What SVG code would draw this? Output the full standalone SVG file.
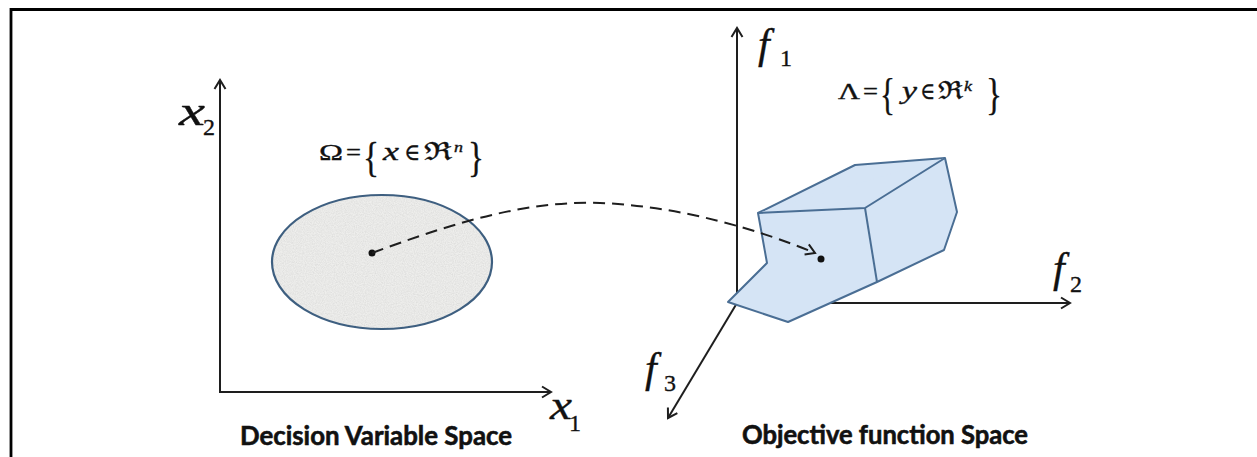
<svg xmlns="http://www.w3.org/2000/svg" width="1257" height="457" viewBox="0 0 1257 457">
<style>
.ax{stroke:#1e1e1e;stroke-width:2;fill:none}
.m{font-family:"Liberation Serif","DejaVu Serif",serif;fill:#111;stroke:#111;stroke-width:0.35}
.it{font-style:italic}
.lbl{font-family:Lato,"Liberation Sans",sans-serif;font-weight:bold;fill:#111;stroke:#111;stroke-width:0.6;font-size:27px}
.shape{fill:#d5e4f5;stroke:#4a6e94;stroke-width:2;stroke-linejoin:round}
</style>
<defs>
<marker id="arr" markerWidth="14" markerHeight="14" refX="11" refY="7" orient="auto" markerUnits="userSpaceOnUse">
<path d="M2,1.5 L11,7 L2,12.5" fill="none" stroke="#1e1e1e" stroke-width="2"/>
</marker>
<filter id="speck" x="0" y="0" width="1" height="1">
<feTurbulence type="fractalNoise" baseFrequency="0.9" numOctaves="2" seed="3" result="n"/>
<feColorMatrix in="n" type="matrix" values="0 0 0 0 0.55  0 0 0 0 0.55  0 0 0 0 0.55  0 0 0 0.7 -0.2" result="g"/>
<feComposite in="g" in2="SourceGraphic" operator="in" result="gi"/>
<feMerge><feMergeNode in="SourceGraphic"/><feMergeNode in="gi"/></feMerge>
</filter>
</defs>
<rect width="1257" height="457" fill="#fff"/>
<g id="frame">
<path d="M11,457 V9.5 H1257" fill="none" stroke="#000" stroke-width="2.8"/>
</g>
<g id="axes">
<line class="ax" x1="220" y1="392" x2="220" y2="80" marker-end="url(#arr)"/>
<line class="ax" x1="219" y1="392" x2="551" y2="392" marker-end="url(#arr)"/>
<line class="ax" x1="737" y1="303" x2="737" y2="28" marker-end="url(#arr)"/>
<line class="ax" x1="737" y1="303" x2="1070" y2="303" marker-end="url(#arr)"/>
<line class="ax" x1="737" y1="303" x2="668" y2="418" marker-end="url(#arr)"/>
<text class="m it" x="179" y="125" font-size="42" textLength="26" lengthAdjust="spacingAndGlyphs">x</text>
<text class="m" x="203" y="135" font-size="24">2</text>
<text class="m it" x="550" y="419" font-size="42" textLength="22" lengthAdjust="spacingAndGlyphs">x</text>
<text class="m" x="569" y="431" font-size="24">1</text>
<text class="m it" x="758" y="58" font-size="42">f</text>
<text class="m" x="780" y="66" font-size="24">1</text>
<text class="m it" x="1053" y="282" font-size="42">f</text>
<text class="m" x="1070" y="292" font-size="24">2</text>
<text class="m it" x="645" y="382" font-size="42">f</text>
<text class="m" x="664" y="391" font-size="24">3</text>
</g>
<g id="decision-space">
<ellipse cx="382" cy="262" rx="110" ry="67" fill="#eeeeec" filter="url(#speck)"/>
<ellipse cx="382" cy="262" rx="110" ry="67" fill="none" stroke="#3e5f80" stroke-width="2.2"/>
<circle cx="372" cy="253" r="3.5" fill="#111"/>
<text class="m" x="319" y="160" font-size="23" textLength="24" lengthAdjust="spacingAndGlyphs">Ω</text>
<text class="m" x="346" y="160" font-size="23" textLength="15" lengthAdjust="spacingAndGlyphs">=</text>
<text class="m" x="363" y="171" font-size="43" textLength="16" lengthAdjust="spacingAndGlyphs">{</text>
<text class="m it" x="383" y="160" font-size="26" textLength="16" lengthAdjust="spacingAndGlyphs">x</text>
<text class="m" x="404" y="160" font-size="23" textLength="16" lengthAdjust="spacingAndGlyphs">∈</text>
<text class="m" x="424" y="160" font-size="25" textLength="28" lengthAdjust="spacingAndGlyphs">ℜ</text>
<text class="m it" x="454" y="152" font-size="15" textLength="9" lengthAdjust="spacingAndGlyphs">n</text>
<text class="m" x="468" y="171" font-size="43" textLength="16" lengthAdjust="spacingAndGlyphs">}</text>
<text class="lbl" x="240" y="445" textLength="272" lengthAdjust="spacingAndGlyphs">Decision Variable Space</text>
</g>
<g id="objective-space">
<polygon points="758,213 855,165 945,158 957,212 944,250 877,282 788,322 728,302 767,263" fill="#d9e7f6" filter="url(#speck)"/>
<polygon class="shape" fill="none" points="758,213 855,165 945,158 957,212 944,250 877,282 788,322 728,302 767,263"/>
<polyline class="shape" fill="none" points="758,213 865,208 945,158"/>
<line class="shape" x1="865" y1="208" x2="877" y2="282"/>
<circle cx="821" cy="259" r="3.5" fill="#111"/>
<text class="m" x="838" y="99" font-size="23" textLength="22" lengthAdjust="spacingAndGlyphs">Λ</text>
<text class="m" x="863" y="99" font-size="23" textLength="15" lengthAdjust="spacingAndGlyphs">=</text>
<text class="m" x="880" y="109" font-size="45" textLength="15" lengthAdjust="spacingAndGlyphs">{</text>
<text class="m it" x="902" y="99" font-size="26" textLength="15" lengthAdjust="spacingAndGlyphs">y</text>
<text class="m" x="920" y="99" font-size="23" textLength="15" lengthAdjust="spacingAndGlyphs">∈</text>
<text class="m" x="938" y="99" font-size="25" textLength="25" lengthAdjust="spacingAndGlyphs">ℜ</text>
<text class="m it" x="964" y="91" font-size="15" textLength="8" lengthAdjust="spacingAndGlyphs">k</text>
<text class="m" x="986" y="109" font-size="45" textLength="16" lengthAdjust="spacingAndGlyphs">}</text>
<text class="lbl" x="742" y="444" textLength="286" lengthAdjust="spacingAndGlyphs">Objective function Space</text>
</g>
<g id="connectors">
<path d="M372,253 C440,228 520,200 600,203 C680,206 760,230 815,253" fill="none" stroke="#1e1e1e" stroke-width="2" stroke-dasharray="12,7" marker-end="url(#arr)"/>
</g>
</svg>
